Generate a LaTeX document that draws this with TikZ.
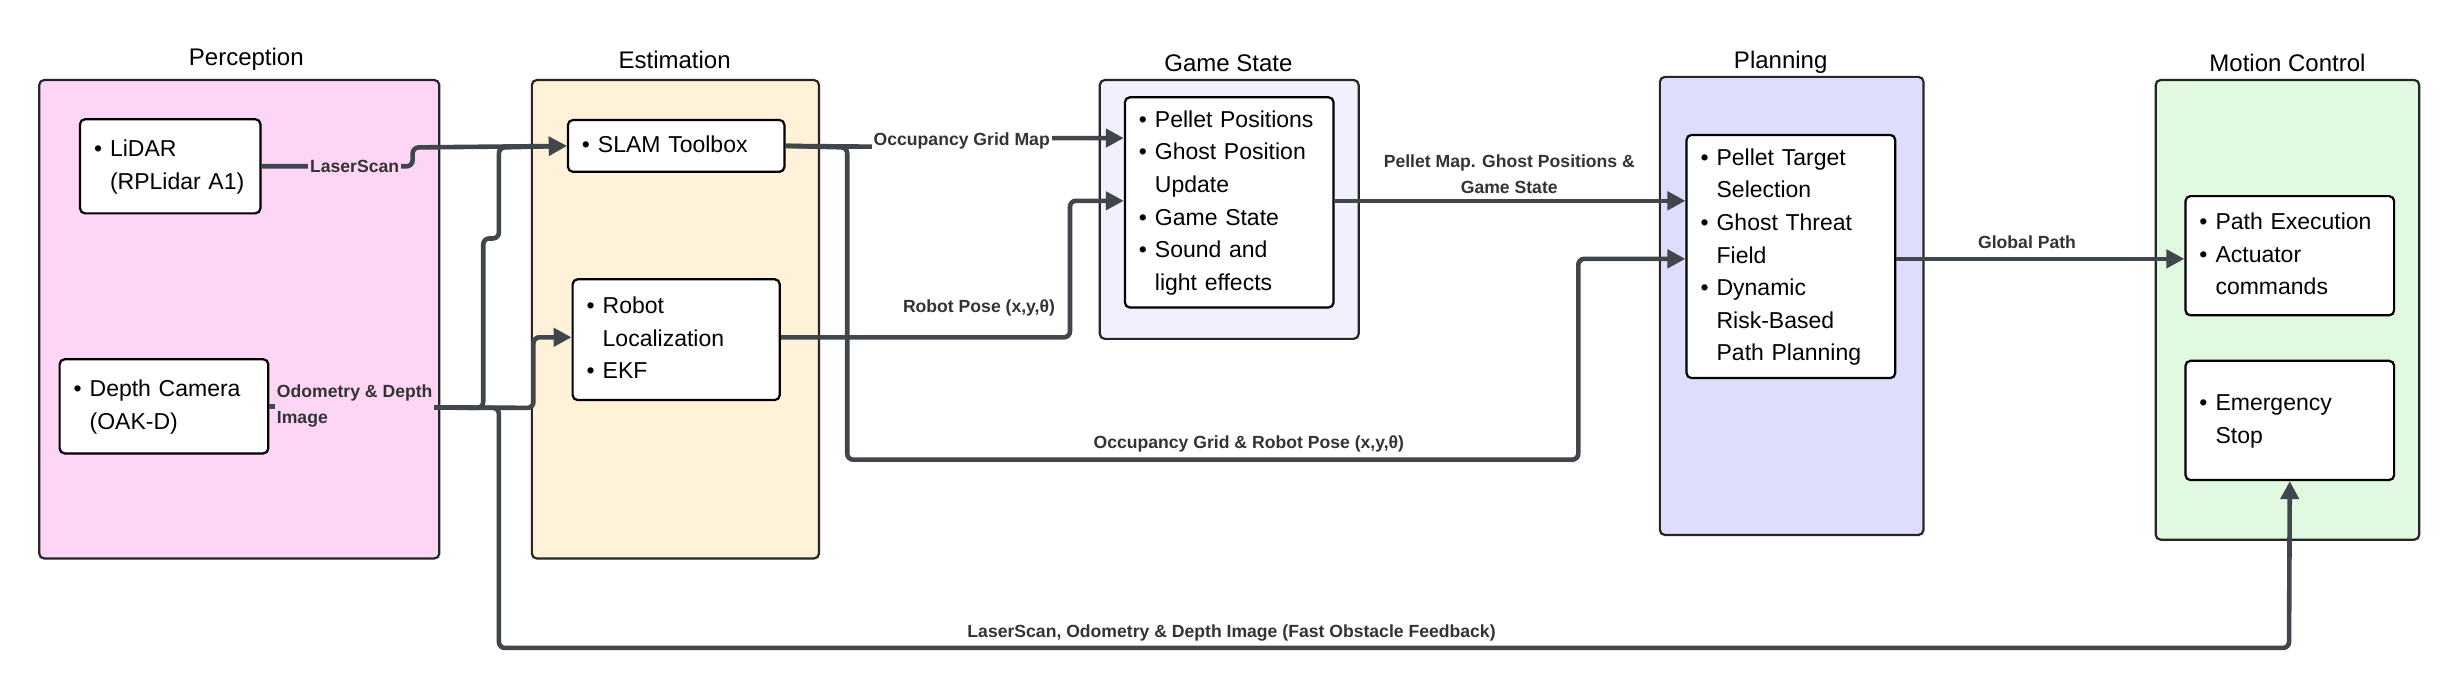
\documentclass[tikz,border=0pt]{standalone}
\usepackage{fontspec}
\setmainfont{Liberation Sans}
\usetikzlibrary{arrows.meta}
\definecolor{lc}{HTML}{41454C}
\definecolor{pk}{HTML}{FDD6F5}
\definecolor{ye}{HTML}{FFF2D9}
\definecolor{gs}{HTML}{F0F0FE}
\definecolor{pl}{HTML}{DDDEFB}
\definecolor{gr}{HTML}{E1F9E1}
\newcommand{\bl}[1]{\begin{tabular}{@{}l@{\hspace{4pt}}l@{}}#1\end{tabular}}
\begin{document}
\begin{tikzpicture}[x=0.7844pt,y=-0.7844pt,
  cont/.style={draw=black!85,line width=1.1pt,rounded corners=2.5pt},
  box/.style={draw=black,fill=white,line width=1.1pt,rounded corners=2.5pt,inner ysep=0pt,inner xsep=7pt,
    minimum width=#1*0.7844pt,text width=#1*0.7844pt-14pt,align=left,
    font=\fontsize{11.5}{16.3}\selectfont},
  ttl/.style={font=\fontsize{12}{14}\selectfont},
  lab/.style={font=\fontsize{8.8}{13}\selectfont\bfseries,text=black!80,inner sep=1pt},
  con/.style={draw=lc,line width=2.3pt,rounded corners=3pt,-{Triangle[length=9pt,width=9pt]}}]
\useasboundingbox (0,0) rectangle (1568,440);
% containers
\node[cont,fill=pk,minimum width=255*0.7844pt,minimum height=305*0.7844pt] (perc) at (152.5,203.5) {};
\node[ttl] at (157,38) {Perception};
\node[cont,fill=ye,minimum width=183*0.7844pt,minimum height=305*0.7844pt] (est) at (430.5,203.5) {};
\node[ttl] at (430,38) {Estimation};
\node[cont,fill=gs,minimum width=165*0.7844pt,minimum height=165*0.7844pt] (gsc) at (783.5,133.5) {};
\node[ttl] at (783,40) {Game State};
\node[cont,fill=pl,minimum width=168*0.7844pt,minimum height=292*0.7844pt] (plc) at (1142,195) {};
\node[ttl] at (1135,40) {Planning};
\node[cont,fill=gr,minimum width=168*0.7844pt,minimum height=293*0.7844pt] (mcc) at (1458,197.5) {};
\node[ttl] at (1458,40) {Motion Control};
% boxes
\node[box=115,minimum height=60*0.7844pt] (lidar) at (108.5,106) {\bl{•&LiDAR\\&(RPLidar A1)}};
\node[box=133,minimum height=60*0.7844pt] (cam) at (104.5,259) {\bl{•&Depth Camera\\&(OAK-D)}};
\node[box=138,minimum height=33*0.7844pt] (slam) at (431,93) {\bl{•&SLAM Toolbox}};
\node[box=132,minimum height=77*0.7844pt] (rl) at (431,216.5) {\bl{•&Robot\\&Localization\\•&EKF}};
\node[box=133,minimum height=134*0.7844pt] (gsin) at (783.5,129) {\bl{•&Pellet Positions\\•&Ghost Position\\&Update\\•&Game State\\•&Sound and\\&light effects}};
\node[box=133,minimum height=155*0.7844pt] (plin) at (1141.5,163.5) {\bl{•&Pellet Target\\&Selection\\•&Ghost Threat\\&Field\\•&Dynamic\\&Risk-Based\\&Path Planning}};
\node[box=133,minimum height=76*0.7844pt] (pe) at (1459.5,163) {\bl{•&Path Execution\\•&Actuator\\&commands}};
\node[box=133,minimum height=76*0.7844pt] (es) at (1459.5,268) {\bl{•&Emergency\\&Stop}};
% connectors
\coordinate (fb) at (1459,413);
\draw[con] (lidar.east) -- (263,106) -- (263,94) -- (slam.west);
\draw[con] (cam.east) -- (308,260) -- (308,152) -- (318,152) -- (318,94) -- (slam.west);
\draw[con] (cam.east) -- (340,260) -- (340,215) -- (rl.west |- 0,215);
\draw[con] (cam.east) -- (318,260) -- (318,413) -- (fb) -- (es.south);
\draw[con] (slam.east) -- (613,94) -- (613,88) -- (gsin.west |- 0,88);
\draw[con] (slam.east) -- (540,94) -- (540,293) -- (1006,293) -- (1006,165) -- (plin.west |- 0,165);
\draw[con] (rl.east |- 0,215) -- (682,215) -- (682,128) -- (gsin.west |- 0,128);
\draw[con] (gsin.east |- 0,128) -- (plin.west |- 0,128);
\draw[con] (plin.east |- 0,165) -- (pe.west |- 0,165);
% labels
\node[lab,fill=pk] at (226,106) {LaserScan};
\node[lab,fill=pk,anchor=west,align=left] at (175,259) {Odometry \& Depth\\Image};
\node[lab,fill=white] at (613,90) {Occupancy Grid Map};
\node[lab,anchor=south] at (624,203) {Robot Pose (x,y,θ)};
\node[lab,align=center] at (962,111) {Pellet Map. Ghost Positions \&\\Game State};
\node[lab,anchor=south] at (796,290) {Occupancy Grid \& Robot Pose (x,y,θ)};
\node[lab,anchor=south] at (1292,160) {Global Path};
\node[lab,anchor=south] at (785,410) {LaserScan, Odometry \& Depth Image (Fast Obstacle Feedback)};
\end{tikzpicture}
\end{document}
